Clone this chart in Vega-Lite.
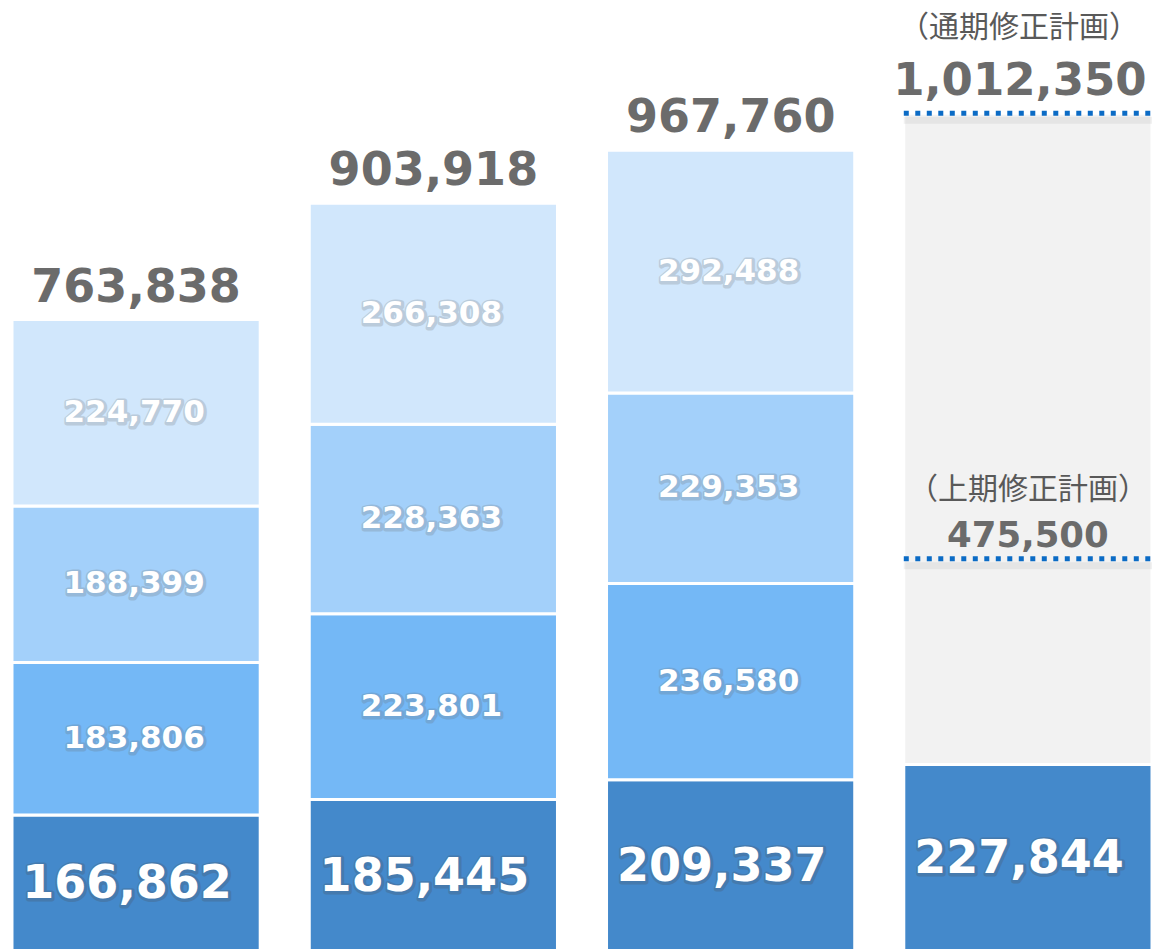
{
  "$schema": "https://vega.github.io/schema/vega-lite/v6.json",
  "width": 1154,
  "height": 949,
  "autosize": {"type": "none"},
  "padding": 0,
  "background": "white",
  "config": {"view": {"stroke": null}},
  "datasets": {
    "segments": [
      {"bar": "1", "segment": "s1", "order": 1, "value": 166862},
      {"bar": "1", "segment": "s2", "order": 2, "value": 183806},
      {"bar": "1", "segment": "s3", "order": 3, "value": 188399},
      {"bar": "1", "segment": "s4", "order": 4, "value": 224770},
      {"bar": "2", "segment": "s1", "order": 1, "value": 185445},
      {"bar": "2", "segment": "s2", "order": 2, "value": 223801},
      {"bar": "2", "segment": "s3", "order": 3, "value": 228363},
      {"bar": "2", "segment": "s4", "order": 4, "value": 266308},
      {"bar": "3", "segment": "s1", "order": 1, "value": 209337},
      {"bar": "3", "segment": "s2", "order": 2, "value": 236580},
      {"bar": "3", "segment": "s3", "order": 3, "value": 229353},
      {"bar": "3", "segment": "s4", "order": 4, "value": 292488},
      {"bar": "4", "segment": "s1", "order": 1, "value": 227844},
      {"bar": "4", "segment": "plan", "order": 5, "value": 784506}
    ],
    "totals": [
      {"bar": "1", "total": 763838},
      {"bar": "2", "total": 903918},
      {"bar": "3", "total": 967760}
    ],
    "plans": [
      {"bar": "4", "plan": "full", "value": 1012350, "note": "（通期修正計画）"},
      {"bar": "4", "plan": "half", "value": 475500, "note": "（上期修正計画）"}
    ]
  },
  "encoding": {
    "x": {
      "field": "bar", "type": "nominal", "axis": null,
      "scale": {"range": [12, 1152], "paddingInner": 0.165, "paddingOuter": 0}
    }
  },
  "layer": [
    {
      "data": {"name": "segments"},
      "mark": {"type": "bar", "stroke": "white", "strokeWidth": 3},
      "encoding": {
        "y": {"field": "value", "type": "quantitative", "stack": "zero", "axis": null,
              "scale": {"domain": [5400, 1148800], "zero": false, "nice": false}},
        "order": {"field": "order", "type": "quantitative"},
        "color": {"field": "segment", "type": "nominal", "legend": null,
                  "scale": {"domain": ["s1", "s2", "s3", "s4", "plan"],
                            "range": ["#4489CB", "#74B8F6", "#A3D0FA", "#D1E7FC", "#F2F2F2"]}}
      }
    },
    {
      "data": {"name": "segments"},
      "transform": [{"filter": "datum.segment !== 'plan'"}],
      "mark": {"type": "text", "font": "DejaVu Sans", "fontWeight": "bold", "baseline": "middle",
               "align": "center", "fill": "#6a6a6a", "stroke": "#6a6a6a", "strokeWidth": 5,
               "strokeJoin": "round", "opacity": 0.22, "dx": -1, "dy": 1, "fontSize": 31},
      "encoding": {
        "y": {"field": "value", "type": "quantitative", "stack": "zero", "bandPosition": 0.5},
        "order": {"field": "order", "type": "quantitative"},
        "text": {"field": "value", "type": "quantitative", "format": ",",
                 "condition": {"test": "datum.segment === 's1'", "value": ""}}
      }
    },
    {
      "data": {"name": "segments"},
      "transform": [{"filter": "datum.segment !== 'plan'"}],
      "mark": {"type": "text", "font": "DejaVu Sans", "fontWeight": "bold", "baseline": "middle",
               "align": "center", "fill": "white", "dx": -2, "fontSize": 31},
      "encoding": {
        "y": {"field": "value", "type": "quantitative", "stack": "zero", "bandPosition": 0.5},
        "order": {"field": "order", "type": "quantitative"},
        "text": {"field": "value", "type": "quantitative", "format": ",",
                 "condition": {"test": "datum.segment === 's1'", "value": ""}}
      }
    },
    {
      "data": {"name": "segments"},
      "transform": [{"filter": "datum.segment === 's1'"}],
      "mark": {"type": "text", "font": "DejaVu Sans", "fontWeight": "bold", "baseline": "middle",
               "align": "center", "fill": "#4a4a4a", "stroke": "#4a4a4a", "strokeWidth": 5,
               "strokeJoin": "round", "opacity": 0.22, "dx": -8, "dy": 1, "fontSize": 46},
      "encoding": {
        "y": {"field": "value", "type": "quantitative", "stack": "zero", "bandPosition": 0.5},
        "order": {"field": "order", "type": "quantitative"},
        "text": {"field": "value", "type": "quantitative", "format": ","}
      }
    },
    {
      "data": {"name": "segments"},
      "transform": [{"filter": "datum.segment === 's1'"}],
      "mark": {"type": "text", "font": "DejaVu Sans", "fontWeight": "bold", "baseline": "middle",
               "align": "center", "fill": "white", "dx": -9, "fontSize": 46},
      "encoding": {
        "y": {"field": "value", "type": "quantitative", "stack": "zero", "bandPosition": 0.5},
        "order": {"field": "order", "type": "quantitative"},
        "text": {"field": "value", "type": "quantitative", "format": ","}
      }
    },
    {
      "data": {"name": "plans"},
      "mark": {"type": "rule", "stroke": "#888888", "strokeWidth": 7, "opacity": 0.12, "yOffset": 7},
      "encoding": {
        "x": {"field": "bar", "type": "nominal", "bandPosition": 0},
        "x2": {"field": "bar", "bandPosition": 1},
        "y": {"field": "value", "type": "quantitative"}
      }
    },
    {
      "data": {"name": "plans"},
      "mark": {"type": "rule", "stroke": "#0B6BC5", "strokeWidth": 5, "strokeDash": [5, 6.5]},
      "encoding": {
        "x": {"field": "bar", "type": "nominal", "bandPosition": 0},
        "x2": {"field": "bar", "bandPosition": 1},
        "y": {"field": "value", "type": "quantitative"}
      }
    },
    {
      "data": {"name": "totals"},
      "mark": {"type": "text", "font": "DejaVu Sans", "fontWeight": "bold", "fontSize": 46,
               "baseline": "alphabetic", "align": "center", "fill": "#6B6B6B", "dy": -18},
      "encoding": {
        "y": {"field": "total", "type": "quantitative"},
        "text": {"field": "total", "type": "quantitative", "format": ","}
      }
    },
    {
      "data": {"name": "plans"},
      "transform": [{"filter": "datum.plan === 'full'"}],
      "mark": {"type": "text", "font": "DejaVu Sans", "fontWeight": "bold", "fontSize": 45,
               "baseline": "alphabetic", "align": "center", "fill": "#6B6B6B", "dy": -18, "dx": -8},
      "encoding": {
        "y": {"field": "value", "type": "quantitative"},
        "text": {"field": "value", "type": "quantitative", "format": ","}
      }
    },
    {
      "data": {"name": "plans"},
      "transform": [{"filter": "datum.plan === 'half'"}],
      "mark": {"type": "text", "font": "DejaVu Sans", "fontWeight": "bold", "fontSize": 35.5,
               "baseline": "alphabetic", "align": "center", "fill": "#6B6B6B", "dy": -12},
      "encoding": {
        "y": {"field": "value", "type": "quantitative"},
        "text": {"field": "value", "type": "quantitative", "format": ","}
      }
    },
    {
      "data": {"name": "plans"},
      "transform": [{"filter": "datum.plan === 'full'"}],
      "mark": {"type": "text", "font": "Noto Sans CJK JP", "fontSize": 30,
               "baseline": "middle", "align": "center", "fill": "#595959", "dy": -85, "dx": -9},
      "encoding": {
        "y": {"field": "value", "type": "quantitative"},
        "text": {"field": "note", "type": "nominal"}
      }
    },
    {
      "data": {"name": "plans"},
      "transform": [{"filter": "datum.plan === 'half'"}],
      "mark": {"type": "text", "font": "Noto Sans CJK JP", "fontSize": 30,
               "baseline": "middle", "align": "center", "fill": "#595959", "dy": -69},
      "encoding": {
        "y": {"field": "value", "type": "quantitative"},
        "text": {"field": "note", "type": "nominal"}
      }
    }
  ]
}
